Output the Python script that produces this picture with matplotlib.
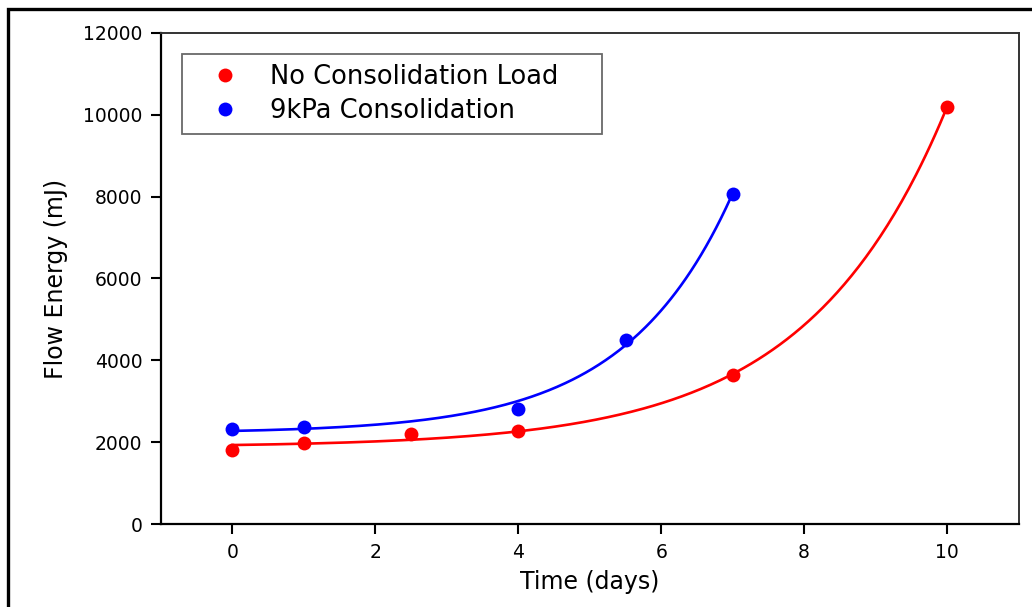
import numpy as np
import matplotlib
matplotlib.use("Agg")
from matplotlib import pyplot as plt
from matplotlib.lines import Line2D
from matplotlib.patches import Rectangle

# data
days_red = [0, 1, 2.5, 4, 7, 10]
energy_red = [1800, 1970, 2200, 2270, 3640, 10200]
days_blue = [0, 1, 4, 5.5, 7]
energy_blue = [2330, 2360, 2810, 4500, 8060]
labels = ["No Consolidation Load", "9kPa Consolidation"]
xticks = [0, 2, 4, 6, 8, 10]
yticks = [0, 2000, 4000, 6000, 8000, 10000, 12000]


def exp_fit(x, y):
    # y = a + b*exp(c*x), least squares, c by grid search
    x = np.asarray(x, float)
    y = np.asarray(y, float)
    best = None
    for c in np.linspace(0.01, 1.5, 3000):
        A = np.column_stack([np.ones_like(x), np.exp(c * x)])
        coef, *_ = np.linalg.lstsq(A, y, rcond=None)
        err = np.sum((A @ coef - y) ** 2)
        if best is None or err < best[0]:
            best = (err, coef[0], coef[1], c)
    return best[1:]


plt.rcParams["font.family"] = ["DejaVu Sans"]
fig = plt.figure(figsize=(10.32, 6.07), dpi=100)
ax = fig.add_axes([0.156, 0.1367, 0.831, 0.809])

for xs, ys, col in [(days_red, energy_red, "#ff0000"), (days_blue, energy_blue, "#0000ff")]:
    a, b, c = exp_fit(xs, ys)
    xf = np.linspace(min(xs), max(xs), 300)
    ax.plot(xf, a + b * np.exp(c * xf), color=col, lw=1.9, zorder=2)
    ax.plot(xs, ys, "o", color=col, ms=10, mec="none", zorder=3)

ax.set_xlim(-1, 11)
ax.set_ylim(0, 12000)
ax.set_xticks(xticks)
ax.set_yticks(yticks)
ax.tick_params(axis="both", direction="out", length=7.5, width=1.5, labelsize=13.5, pad=6)
ax.tick_params(top=False, right=False)
for s in ["left", "bottom"]:
    ax.spines[s].set_linewidth(1.6)
for s in ["top", "right"]:
    ax.spines[s].set_linewidth(1.4)
    ax.spines[s].set_color("#333333")

ax.set_xlabel("Time (days)", fontsize=17, labelpad=6)
ax.set_ylabel("Flow Energy (mJ)", fontsize=17, labelpad=11)

handles = [Line2D([], [], ls="none", marker="o", color="#ff0000", ms=10, mec="none"),
           Line2D([], [], ls="none", marker="o", color="#0000ff", ms=10, mec="none")]
leg = ax.legend(handles, labels, loc="upper left", bbox_to_anchor=(0.0245, 0.957, 0.4895, 0.0),
                mode="expand", fontsize=18.5, frameon=True, fancybox=False, borderpad=0.38,
                labelspacing=0.31, handletextpad=0.5, handlelength=2.55, borderaxespad=0)
leg.get_frame().set_edgecolor("#444444")
leg.get_frame().set_linewidth(1.3)

# outer frame of the original image (cut off at right and bottom)
fig.patches.append(Rectangle((8 / 1032, -0.2), 1.5, 1.2 - 8.5 / 607, transform=fig.transFigure,
                             fill=False, lw=2.4, ec="black"))

fig.savefig("out.png", dpi=100)
